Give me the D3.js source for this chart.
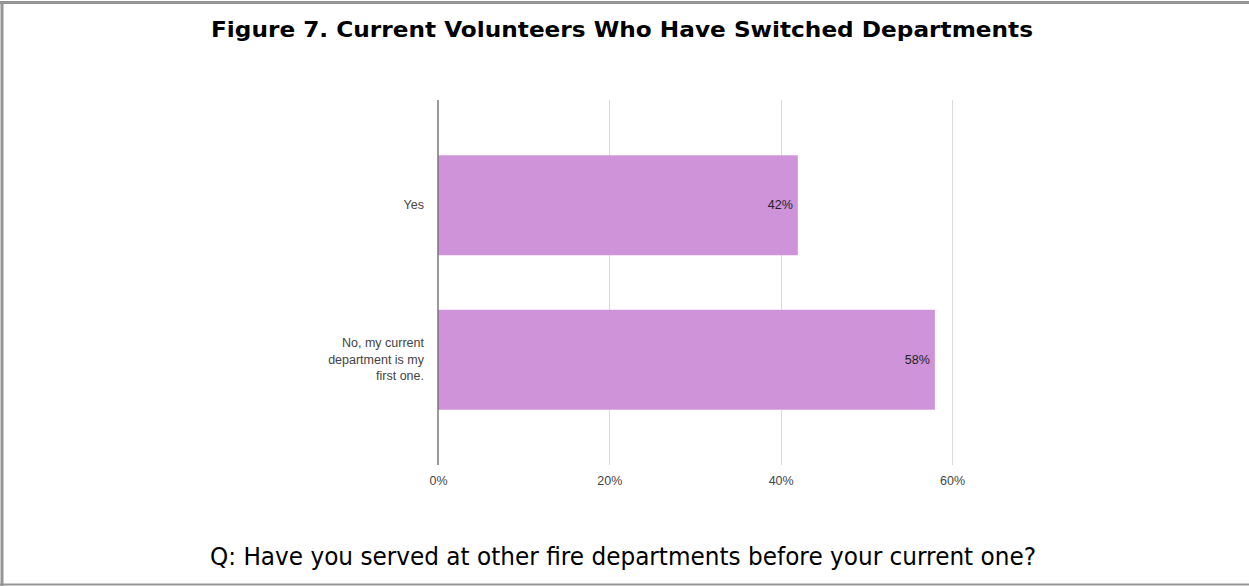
<!DOCTYPE html>
<html>
<head>
<meta charset="utf-8">
<script src="https://cdn.jsdelivr.net/npm/d3@7"></script>
<style>
  html, body { margin: 0; padding: 0; background: #fff; }
  svg { display: block; }
</style>
</head>
<body>
<svg id="chart" width="1249" height="586"></svg>
<script>
// Survey answers and their shares
const categories = ["Yes", "No, my current department is my first one."];
const categoryLines = [["Yes"], ["No, my current", "department is my", "first one."]];
const values = [0.42, 0.58];
const tickValues = [0, 0.2, 0.4, 0.6];

const titleText = "Figure 7. Current Volunteers Who Have Switched Departments";
const captionText = "Q: Have you served at other fire departments before your current one?";

const W = 1249, H = 586;
const svg = d3.select("#chart");

// Frame around the figure (top, left, bottom)
svg.append("line").attr("x1", 0).attr("x2", W).attr("y1", 2.5).attr("y2", 2.5)
  .attr("stroke", "#959595").attr("stroke-width", 3);
svg.append("line").attr("x1", 2).attr("x2", 2).attr("y1", 1).attr("y2", H)
  .attr("stroke", "#959595").attr("stroke-width", 3);
svg.append("line").attr("x1", 0).attr("x2", W).attr("y1", 584.5).attr("y2", 584.5)
  .attr("stroke", "#959595").attr("stroke-width", 2);

// Title
svg.append("text")
  .attr("x", 622).attr("y", 37)
  .attr("text-anchor", "middle")
  .attr("font-family", "DejaVu Sans, Verdana, sans-serif")
  .attr("font-weight", "bold")
  .attr("font-size", 20.5)
  .attr("textLength", 822)
  .attr("lengthAdjust", "spacingAndGlyphs")
  .attr("fill", "#000")
  .text(titleText);

// Caption
svg.append("text")
  .attr("x", 623).attr("y", 565)
  .attr("text-anchor", "middle")
  .attr("font-family", "DejaVu Sans, Verdana, sans-serif")
  .attr("font-size", 24.5)
  .attr("textLength", 826)
  .attr("lengthAdjust", "spacingAndGlyphs")
  .attr("fill", "#000")
  .text(captionText);

// Plot area
const plot = { left: 438, right: 952, top: 100, bottom: 465 };

const x = d3.scaleLinear().domain([0, 0.6]).range([plot.left, plot.right]);
const y = d3.scaleBand().domain(categories).range([plot.top, plot.bottom])
  .paddingInner(0.353).paddingOuter(0.358);

const g = svg.append("g");

// Vertical gridlines
g.selectAll("line.grid")
  .data(tickValues.filter(d => d > 0))
  .join("line")
  .attr("class", "grid")
  .attr("x1", d => Math.round(x(d)) + 0.5).attr("x2", d => Math.round(x(d)) + 0.5)
  .attr("y1", plot.top).attr("y2", plot.bottom)
  .attr("stroke", "#d9d9d9").attr("stroke-width", 1);

// Bars
g.selectAll("rect.bar")
  .data(values)
  .join("rect")
  .attr("class", "bar")
  .attr("x", x(0))
  .attr("y", (d, i) => y(categories[i]))
  .attr("width", d => x(d) - x(0))
  .attr("height", y.bandwidth())
  .attr("fill", "#ce93d8");

// Baseline axis line
g.append("line")
  .attr("x1", x(0)).attr("x2", x(0))
  .attr("y1", plot.top).attr("y2", plot.bottom)
  .attr("stroke", "#777").attr("stroke-width", 1.5);

// Value labels inside bar ends
g.selectAll("text.val")
  .data(values)
  .join("text")
  .attr("class", "val")
  .attr("x", d => x(d) - 5)
  .attr("y", (d, i) => y(categories[i]) + y.bandwidth() / 2 + 4)
  .attr("text-anchor", "end")
  .attr("font-family", "Liberation Sans, Arial, sans-serif")
  .attr("font-size", 12.5)
  .attr("fill", "#222")
  .text(d => Math.round(d * 100) + "%");

// Category labels
const catG = g.selectAll("text.cat")
  .data(categories)
  .join("text")
  .attr("class", "cat")
  .attr("text-anchor", "end")
  .attr("font-family", "Liberation Sans, Arial, sans-serif")
  .attr("font-size", 12.5)
  .attr("fill", "#444");

catG.each(function(d, i) {
  const lines = categoryLines[i];
  const cy = y(d) + y.bandwidth() / 2;
  const lh = 16.5;
  const startY = cy - (lines.length - 1) * lh / 2 + 4;
  d3.select(this).selectAll("tspan")
    .data(lines)
    .join("tspan")
    .attr("x", plot.left - 14)
    .attr("y", (t, j) => startY + j * lh)
    .text(t => t);
});

// X axis tick labels
const xAxis = d3.axisBottom(x)
  .tickValues(tickValues)
  .tickFormat(d3.format(".0%"))
  .tickSize(0)
  .tickPadding(11);

const axG = svg.append("g")
  .attr("transform", `translate(0,${plot.bottom})`)
  .call(xAxis);
axG.select(".domain").remove();
axG.selectAll("text")
  .attr("font-family", "Liberation Sans, Arial, sans-serif")
  .attr("font-size", 12.5)
  .attr("fill", "#444");
</script>
</body>
</html>
